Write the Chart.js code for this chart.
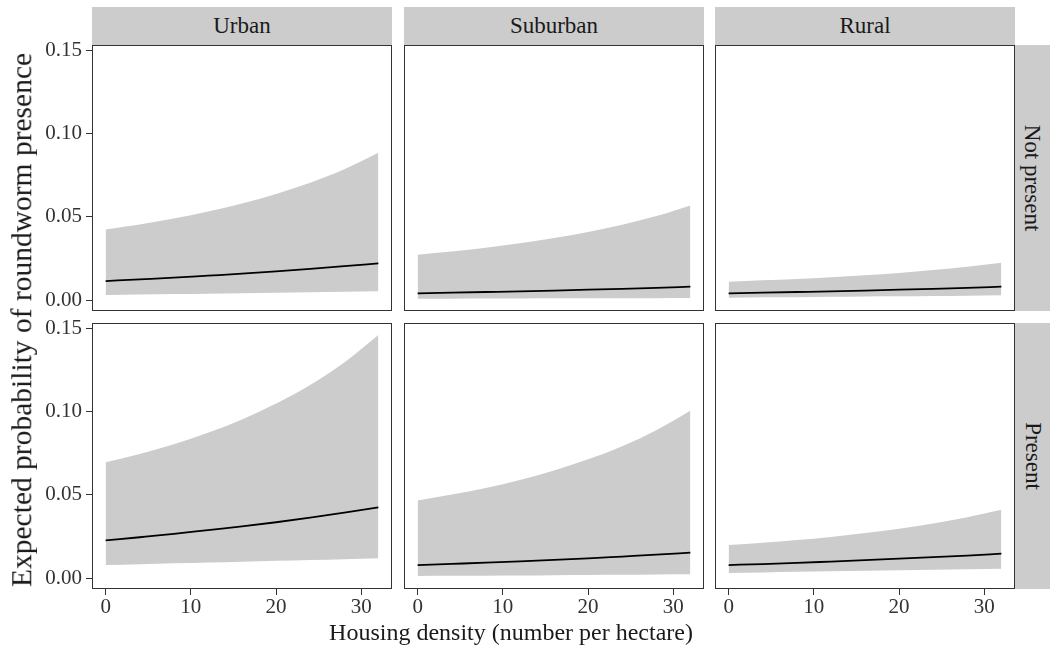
<!DOCTYPE html>
<html>
<head>
<meta charset="utf-8">
<script src="https://cdn.jsdelivr.net/npm/chart.js@4/dist/chart.umd.min.js"></script>
<style>
  body { margin: 0; background: #ffffff; width: 1050px; height: 651px; overflow: hidden; position: relative; font-family: 'Liberation Serif', 'Times New Roman', serif; }
  .strip { position: absolute; background: #cccccc; color: #1a1a1a; font-size: 23px; display: flex; align-items: center; justify-content: center; }
  .vtext { position: absolute; white-space: nowrap; line-height: 1; }
</style>
</head>
<body>
<script>
// facets
var areas = ["Urban", "Suburban", "Rural"];
var presence = ["Not present", "Present"];

// housing density (number per hectare)
var xValues = [0, 4, 8, 12, 16, 20, 24, 28, 32];
var xTicks = [0, 10, 20, 30];
var yTicks = [0, 0.05, 0.10, 0.15];

// Not present row
var urbanNotLower = [0.0030, 0.0033, 0.0036, 0.0038, 0.0041, 0.0043, 0.0046, 0.0049, 0.0052];
var urbanNotFit   = [0.0114, 0.0124, 0.0134, 0.0146, 0.0158, 0.0172, 0.0187, 0.0203, 0.0220];
var urbanNotUpper = [0.0424, 0.0454, 0.0489, 0.0531, 0.0580, 0.0637, 0.0704, 0.0785, 0.0884];

var suburbanNotLower = [0.0008, 0.0008, 0.0009, 0.0009, 0.0010, 0.0010, 0.0011, 0.0011, 0.0012];
var suburbanNotFit   = [0.0040, 0.0044, 0.0048, 0.0052, 0.0057, 0.0062, 0.0067, 0.0073, 0.0080];
var suburbanNotUpper = [0.0272, 0.0291, 0.0314, 0.0341, 0.0372, 0.0408, 0.0452, 0.0504, 0.0568];

var ruralNotLower = [0.0014, 0.0016, 0.0017, 0.0019, 0.0021, 0.0022, 0.0024, 0.0026, 0.0028];
var ruralNotFit   = [0.0040, 0.0044, 0.0048, 0.0052, 0.0057, 0.0062, 0.0067, 0.0073, 0.0080];
var ruralNotUpper = [0.0110, 0.0118, 0.0126, 0.0137, 0.0149, 0.0163, 0.0180, 0.0200, 0.0224];

// Present row
var urbanPresLower = [0.0078, 0.0083, 0.0088, 0.0093, 0.0098, 0.0103, 0.0108, 0.0113, 0.0118];
var urbanPresFit   = [0.0226, 0.0245, 0.0265, 0.0288, 0.0310, 0.0335, 0.0363, 0.0393, 0.0425];
var urbanPresUpper = [0.0695, 0.0745, 0.0803, 0.0872, 0.0953, 0.1048, 0.1160, 0.1295, 0.1460];

var suburbanPresLower = [0.0012, 0.0013, 0.0014, 0.0015, 0.0017, 0.0018, 0.0019, 0.0021, 0.0022];
var suburbanPresFit   = [0.0078, 0.0085, 0.0092, 0.0100, 0.0109, 0.0118, 0.0129, 0.0140, 0.0152];
var suburbanPresUpper = [0.0466, 0.0501, 0.0541, 0.0589, 0.0646, 0.0713, 0.0792, 0.0888, 0.1005];

var ruralPresLower = [0.0030, 0.0033, 0.0037, 0.0040, 0.0043, 0.0046, 0.0050, 0.0053, 0.0056];
var ruralPresFit   = [0.0078, 0.0084, 0.0091, 0.0099, 0.0107, 0.0116, 0.0125, 0.0135, 0.0146];
var ruralPresUpper = [0.0198, 0.0212, 0.0228, 0.0247, 0.0270, 0.0296, 0.0327, 0.0365, 0.0410];

// panel grid in page pixels
var colLeft = [92, 404, 715];
var rowTop = [45, 323];
var panelW = 300;
var panelH = 266;

Chart.defaults.font.family = "'Liberation Serif', 'Times New Roman', serif";
Chart.defaults.color = "#333333";

var panelBorder = {
    id: "panelBorder",
    afterDraw: function(chart){
        var a = chart.chartArea;
        var ctx = chart.ctx;
        ctx.save();
        ctx.strokeStyle = "#333333";
        ctx.lineWidth = 1;
        ctx.strokeRect(a.left + 0.5, a.top + 0.5, a.right - a.left - 1, a.bottom - a.top - 1);
        ctx.restore();
    }
};

function toPoints(ys){
    var pts = [];
    for(let i=0; i<xValues.length; i++){
        pts.push({x: xValues[i], y: ys[i]});
    }
    return pts;
}

function noLabelPadding(s){
    s.paddingTop = 0;
    s.paddingBottom = 0;
    s.paddingLeft = 0;
    s.paddingRight = 0;
}

function makePanel(col, row, lower, fit, upper){
    var x0 = colLeft[col];
    var x1 = x0 + panelW;
    var y0 = rowTop[row];
    var y1 = y0 + panelH;
    var showY = col == 0;
    var showX = row == 1;

    var cLeft = showY ? 0 : x0 - 3;
    var cTop = y0 - 3;
    var cRight = x1 + 3;
    var cBottom = showX ? 651 : y1 + 3;

    var canvas = document.createElement("canvas");
    canvas.width = cRight - cLeft;
    canvas.height = cBottom - cTop;
    canvas.style.cssText = "position:absolute;left:" + cLeft + "px;top:" + cTop + "px;width:" + canvas.width + "px;height:" + canvas.height + "px";
    document.body.appendChild(canvas);

    new Chart(canvas, {
        type: "line",
        data: {
            datasets: [{
                // fitted line first so it is painted on top of the band
                data: toPoints(fit),
                borderColor: "#000000",
                borderWidth: 1.8,
                pointRadius: 0,
                fill: false,
                cubicInterpolationMode: "monotone"
            }, {
                data: toPoints(lower),
                borderWidth: 0,
                pointRadius: 0,
                fill: false,
                cubicInterpolationMode: "monotone"
            }, {
                data: toPoints(upper),
                borderWidth: 0,
                pointRadius: 0,
                fill: "-1",
                backgroundColor: "#cccccc",
                cubicInterpolationMode: "monotone"
            }]
        },
        options: {
            responsive: false,
            animation: false,
            events: [],
            layout: {padding: {left: showY ? 0 : 3, top: 3, right: 3, bottom: showX ? 0 : 3}},
            plugins: {legend: {display: false}, tooltip: {enabled: false}},
            scales: {
                x: {
                    type: "linear",
                    display: showX,
                    min: -1.6,
                    max: 33.6,
                    afterBuildTicks: function(s){ s.ticks = xTicks.map(function(v){ return {value: v}; }); },
                    afterFit: function(s){
                        noLabelPadding(s);
                        if(showX){ s.height = 651 - y1; }
                    },
                    grid: {drawOnChartArea: false, drawTicks: true, tickLength: 6, color: "#333333"},
                    border: {display: false},
                    ticks: {
                        autoSkip: false, maxRotation: 0, padding: 0,
                        font: {size: 21}, color: "#333333",
                        callback: function(v){ return String(v); }
                    }
                },
                y: {
                    type: "linear",
                    display: showY,
                    min: -0.0066,
                    max: 0.1532,
                    afterBuildTicks: function(s){ s.ticks = yTicks.map(function(v){ return {value: v}; }); },
                    afterFit: function(s){
                        noLabelPadding(s);
                        if(showY){ s.width = x0; }
                    },
                    grid: {drawOnChartArea: false, drawTicks: true, tickLength: 6, color: "#333333"},
                    border: {display: false},
                    ticks: {
                        autoSkip: false, padding: 4,
                        font: {size: 21}, color: "#333333",
                        callback: function(v){ return v.toFixed(2); }
                    }
                }
            }
        },
        plugins: [panelBorder]
    });
}

function addStrip(left, top, w, h, text, rotate){
    var d = document.createElement("div");
    d.className = "strip";
    d.style.left = left + "px";
    d.style.top = top + "px";
    d.style.width = w + "px";
    d.style.height = h + "px";
    var s = document.createElement("span");
    s.textContent = text;
    if(rotate){
        s.style.transform = "rotate(90deg)";
        s.style.whiteSpace = "nowrap";
        s.style.display = "inline-block";
    }
    d.appendChild(s);
    document.body.appendChild(d);
}

for(let c=0; c<areas.length; c++){
    addStrip(colLeft[c], 7, panelW, 38, areas[c], false);
}
for(let r=0; r<presence.length; r++){
    addStrip(colLeft[2] + panelW, rowTop[r], 1050 - colLeft[2] - panelW, panelH, presence[r], true);
}

makePanel(0, 0, urbanNotLower, urbanNotFit, urbanNotUpper);
makePanel(1, 0, suburbanNotLower, suburbanNotFit, suburbanNotUpper);
makePanel(2, 0, ruralNotLower, ruralNotFit, ruralNotUpper);
makePanel(0, 1, urbanPresLower, urbanPresFit, urbanPresUpper);
makePanel(1, 1, suburbanPresLower, suburbanPresFit, suburbanPresUpper);
makePanel(2, 1, ruralPresLower, ruralPresFit, ruralPresUpper);

// axis titles
var xt = document.createElement("div");
xt.className = "vtext";
xt.textContent = "Housing density (number per hectare)";
xt.style.fontSize = "24px";
xt.style.color = "#1a1a1a";
xt.style.left = "511px";
xt.style.top = "620px";
xt.style.transform = "translateX(-50%)";
document.body.appendChild(xt);

var yt = document.createElement("div");
yt.className = "vtext";
yt.textContent = "Expected probability of roundworm presence";
yt.style.fontSize = "29.5px";
yt.style.color = "#1a1a1a";
yt.style.left = "21.7px";
yt.style.top = "320px";
yt.style.transform = "translate(-50%, -50%) rotate(-90deg)";
document.body.appendChild(yt);
</script>
</body>
</html>
